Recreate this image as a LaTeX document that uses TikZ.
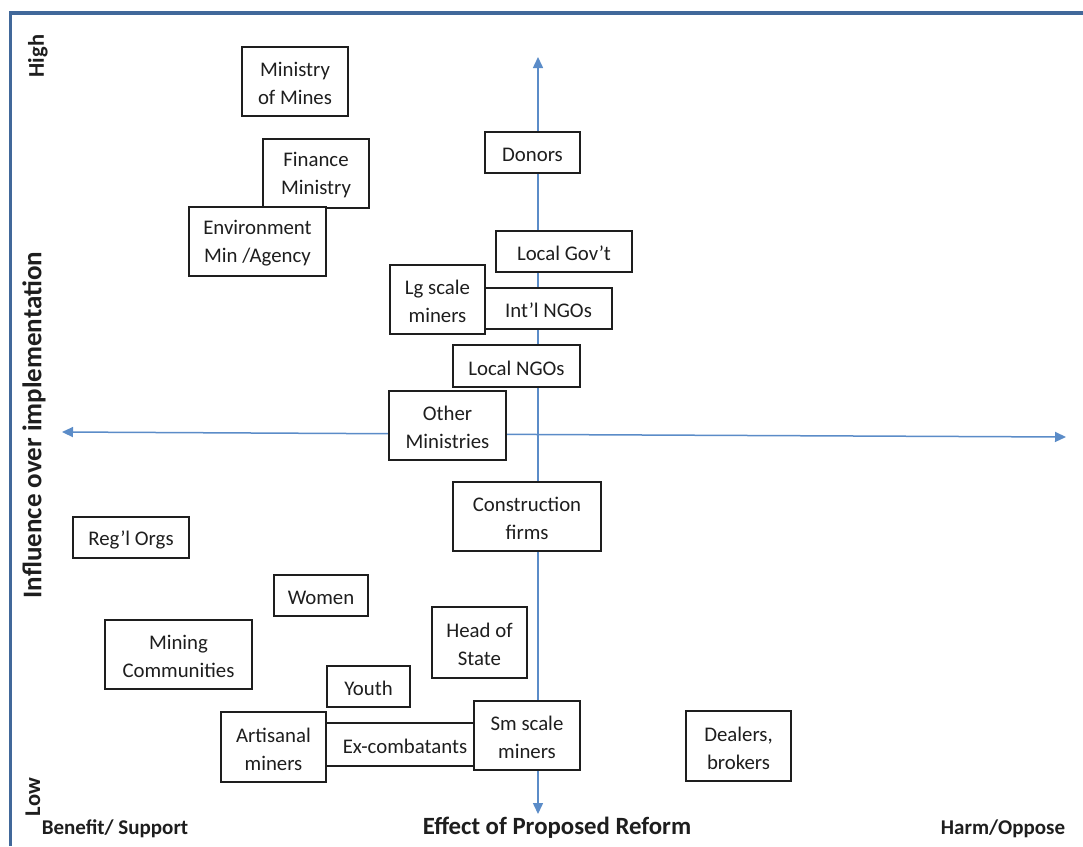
\documentclass[tikz,border=0pt]{standalone}
\usepackage{fontspec}
\setmainfont{Carlito}
\usetikzlibrary{arrows.meta}
\definecolor{framecol}{HTML}{41689A}
\definecolor{axiscol}{HTML}{5B8CC8}
\definecolor{txt}{HTML}{1E1E1E}
\tikzset{
  stakebox/.style={draw=txt, line width=1.2pt, fill=white, inner sep=0pt},
  boxtext/.style={inner sep=0pt, align=center, text=txt, font=\fontsize{20.8}{28}\selectfont},
  axisline/.style={draw=axiscol, line width=1.5pt, -{Triangle[length=11pt,width=10pt]}},
  biglabel/.style={font=\bfseries\fontsize{24.8}{28}\selectfont, text=txt, inner sep=0pt},
  ylabel/.style={font=\bfseries\fontsize{27}{30}\selectfont, text=txt, inner sep=0pt},
  smalllabel/.style={font=\bfseries\fontsize{21}{24}\selectfont, text=txt, inner sep=0pt},
  hilolabel/.style={font=\bfseries\fontsize{22.5}{24}\selectfont, text=txt, inner sep=0pt},
}
\newcommand{\stakenode}[7][0pt]{% [text xshift] name, x1, y1, x2, y2, text
  \node[stakebox, minimum width={#5-#3}, minimum height={#6-#4}] (#2) at ({(#3+#5)/2},{(#4+#6)/2}) {};
  \node[boxtext] (#2-t) at ([xshift=#1, yshift=-2pt]#2.center) {#7};}
\begin{document}
\begin{tikzpicture}[x=1pt,y=-1pt]
\useasboundingbox (0,0) rectangle (1083,846);
\fill[white] (0,0) rectangle (1083,846);
% frame
\draw[framecol, line width=3.5pt] (10.5,846) -- (10.5,13) -- (1083,13);
% axes
\coordinate (vtop) at (538,57);
\coordinate (vbot) at (538,814);
\coordinate (hleft) at (62,432);
\coordinate (hright) at (1066,437);
\coordinate (vmid) at (538,434.5);
\draw[axisline] (vmid) -- (vtop);
\draw[axisline] (vmid) -- (vbot);
\draw[axisline] (vmid) -- (hleft);
\draw[axisline] (vmid) -- (hright);
% boxes
\stakenode{mines}{242}{47}{348}{116}{Ministry\\of Mines}
\stakenode{finance}{263}{139}{369}{208}{Finance\\Ministry}
\stakenode{env}{189}{207}{326}{276}{Environment\\Min /Agency}
\stakenode{donors}{485}{132}{580}{173}{Donors}
\stakenode{localgov}{496}{231}{632}{272}{Local Gov’t}
\stakenode{intlngo}{485}{288}{612}{329}{Int’l NGOs}
\stakenode{lgscale}{390}{265}{485}{334}{Lg scale\\miners}
\stakenode{localngo}{453}{345}{580}{387}{Local NGOs}
\stakenode{otherMin}{389}{391}{506}{460}{Other\\Ministries}
\stakenode{construct}{453}{482}{601}{551}{Construction\\firms}
\stakenode{regl}{73}{517}{189}{558}{Reg’l Orgs}
\stakenode{women}{274}{575}{368}{616}{Women}
\stakenode{mining}{105}{620}{252}{689}{Mining\\Communities}
\stakenode{head}{432}{607}{527}{678}{Head of\\State}
\stakenode{youth}{327}{666}{410}{707}{Youth}
\stakenode[5pt]{excomb}{320}{723}{480}{766}{Ex-combatants}
\stakenode{artisanal}{221}{712}{326}{782}{Artisanal\\miners}
\stakenode{smscale}{474}{701}{580}{770}{Sm scale\\miners}
\stakenode{dealers}{686}{711}{791}{781}{Dealers,\\brokers}
% labels
\node[hilolabel, rotate=90] (high) at (38,56) {High};
\node[hilolabel, rotate=90] (low) at (33,797) {Low};
\node[ylabel, rotate=90] (yaxis) at (34,425) {Influence over implementation};
\node[smalllabel] (benefit) at (115,829) {Benefit/ Support};
\node[biglabel] (xaxis) at (557,828) {Effect of Proposed Reform};
\node[smalllabel] (harm) at (1003,829) {Harm/Oppose};
\end{tikzpicture}
\end{document}
